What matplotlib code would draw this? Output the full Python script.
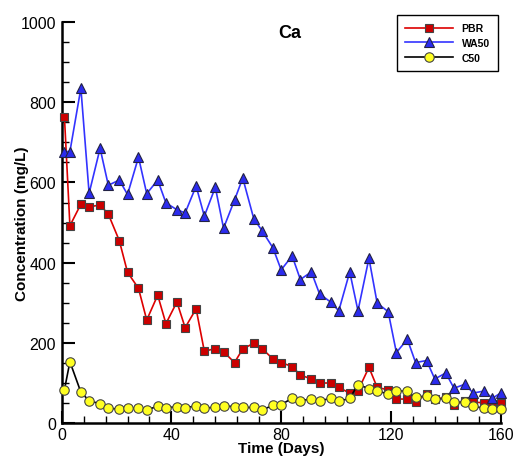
import matplotlib
matplotlib.use("Agg")
import matplotlib.pyplot as plt
from matplotlib.ticker import MultipleLocator

plt.rcParams.update({
    "font.family": ["Liberation Sans", "DejaVu Sans"],
    "font.size": 11,
})

# sampling days (shared by all three columns)
days = [1, 3, 7, 10, 14, 17, 21, 24, 28, 31, 35, 38, 42, 45, 49, 52, 56, 59,
        63, 66, 70, 73, 77, 80, 84, 87, 91, 94, 98, 101, 105, 108, 112, 115,
        119, 122, 126, 129, 133, 136, 140, 143, 147, 150, 154, 157, 160]

pbr = [764, 492, 546, 539, 544, 521, 455, 376, 336, 257, 319, 248, 302, 238,
       285, 179, 186, 178, 151, 185, 199, 186, 160, 151, 141, 120, 110, 100,
       100, 90, 74, 81, 139, 89, 83, 60, 60, 53, 73, 60, 64, 46, 56, 52, 51,
       47, 51]
wa50 = [677, 677, 835, 573, 685, 593, 606, 570, 663, 572, 606, 549, 532, 524,
        591, 516, 588, 486, 556, 611, 510, 480, 437, 382, 417, 358, 377, 322,
        302, 280, 377, 280, 411, 299, 278, 176, 209, 151, 156, 110, 125, 87,
        97, 75, 80, 62, 75]
c50 = [83, 153, 77, 56, 48, 37, 35, 37, 37, 33, 42, 38, 41, 38, 43, 38, 39,
       43, 41, 39, 39, 33, 44, 46, 62, 55, 61, 55, 62, 54, 62, 96, 86, 81,
       72, 81, 79, 64, 68, 59, 62, 52, 52, 42, 37, 35, 35]

fig = plt.figure(figsize=(5.14, 4.6), dpi=100)
ax = fig.add_axes([0.120, 0.078, 0.854, 0.872])

ax.plot(days, pbr, color="#dd0000", lw=1.2, marker="s", ms=6.3,
        mfc="#cc0000", mec="#444444", mew=0.8, label="PBR", clip_on=False, zorder=3)
ax.plot(days, wa50, color="#3333ff", lw=1.2, marker="^", ms=7.3,
        mfc="#2b2bee", mec="#222244", mew=0.8, label="WA50", clip_on=False, zorder=3)
ax.plot(days, c50, color="black", lw=1.2, marker="o", ms=6.8,
        mfc="#ffff22", mec="#444444", mew=0.8, label="C50", clip_on=False, zorder=3)

ax.set_xlim(0, 160)
ax.set_ylim(0, 1000)
ax.xaxis.set_major_locator(MultipleLocator(40))
ax.xaxis.set_minor_locator(MultipleLocator(8))
ax.yaxis.set_major_locator(MultipleLocator(200))
ax.yaxis.set_minor_locator(MultipleLocator(50))
ax.tick_params(which="major", direction="in", length=9, width=1.5, labelsize=11.5)
ax.tick_params(axis="x", which="major", pad=3)
ax.tick_params(axis="y", which="major", pad=4)
ax.tick_params(which="minor", direction="in", length=5, width=1)
for s in ["top", "right"]:
    ax.spines[s].set_visible(False)
for s in ["left", "bottom"]:
    ax.spines[s].set_linewidth(1.8)

ax.set_xlabel("Time (Days)", fontsize=11, fontweight="bold", labelpad=-1)
ax.set_ylabel("Concentration (mg/L)", fontsize=11, fontweight="bold", labelpad=-6)
ax.text(0.52, 0.975, "Ca", transform=ax.transAxes, fontsize=13,
        fontweight="bold", ha="center", va="center")

leg = fig.legend(loc="upper right", bbox_to_anchor=(0.969, 0.965),
                 borderaxespad=0,
                 prop={"weight": "bold", "size": 7.5}, handlelength=4.6,
                 fancybox=False, framealpha=1, edgecolor="black",
                 borderpad=0.8, labelspacing=0.45, handletextpad=0.8)
leg.get_frame().set_linewidth(1.0)

fig.savefig("out.png", dpi=100)
